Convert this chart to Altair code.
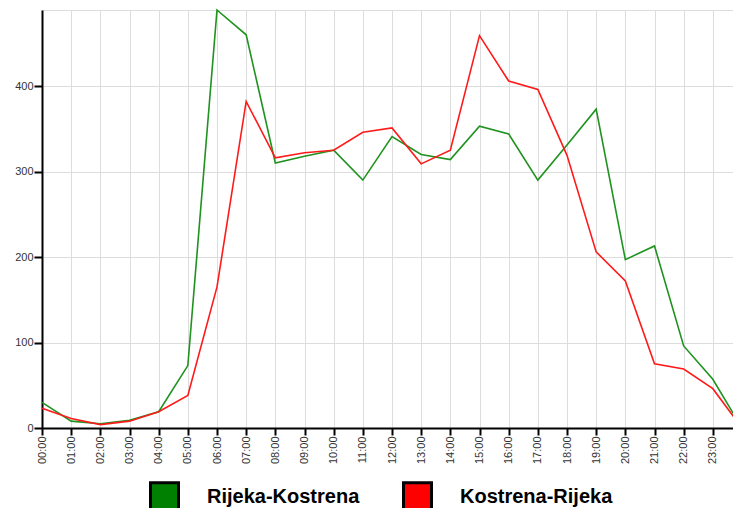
import altair as alt
import pandas as pd

hours = list(range(25))
series_names = ["Rijeka-Kostrena", "Kostrena-Rijeka"]
legend_colors = ["#008000", "#ff0000"]
line_colors = ["#1f921f", "#ff1a1a"]
rijeka_kostrena = [30, 8, 5, 9, 19, 73, 489, 460, 310, 318, 325, 290, 341, 320, 314, 353, 344, 290, 331, 373, 197, 213, 96, 57, 0]
kostrena_rijeka = [23, 11, 4, 8, 19, 38, 165, 382, 316, 322, 325, 346, 351, 309, 325, 459, 406, 396, 319, 206, 172, 75, 69, 46, 0]
y_ticks = [0, 100, 200, 300, 400]

rows = []
for name, vals in zip(series_names, [rijeka_kostrena, kostrena_rijeka]):
    for h, v in zip(hours, vals):
        rows.append({"hour": h, "value": v, "series": name})
df = pd.DataFrame(rows)

FONT = "Liberation Sans"

x_enc = alt.X(
    "hour:Q",
    scale=alt.Scale(domain=[0, 24], nice=False),
    axis=alt.Axis(
        values=hours,
        labelExpr="((datum.value % 24) < 10 ? '0' : '') + (datum.value % 24) + ':00'",
        labelAngle=270,
        labelFontSize=11,
        labelColor="#333333",
        labelFont=FONT,
        labelPadding=1,
        tickSize=7,
        tickWidth=2,
        tickColor="black",
        domainColor="black",
        domainWidth=2,
        grid=True,
        gridColor="#dddddd",
        gridWidth=1,
        title=None,
        labelOverlap=False,
    ),
)
y_enc = alt.Y(
    "value:Q",
    scale=alt.Scale(domain=[0, 489], nice=False),
    axis=alt.Axis(
        values=y_ticks,
        labelFontSize=11,
        labelColor="#333333",
        labelFont=FONT,
        labelPadding=1,
        tickSize=8,
        tickWidth=2,
        tickColor="black",
        domainColor="black",
        domainWidth=2,
        grid=True,
        gridColor="#dddddd",
        gridWidth=1,
        title=None,
    ),
)

legend_layer = alt.Chart(df).transform_filter("datum.value < 0").mark_point(
    filled=True, shape="square", stroke="black", strokeWidth=3
).encode(
    x=x_enc,
    y=y_enc,
    fill=alt.Fill(
        "series:N",
        scale=alt.Scale(domain=series_names, range=legend_colors),
        sort=series_names,
        legend=alt.Legend(
            orient="none",
            legendX=107,
            legendY=471,
            direction="horizontal",
            title=None,
            symbolType="square",
            symbolSize=784,
            symbolStrokeWidth=3,
            symbolOpacity=1,
            labelFontSize=20,
            labelFont=FONT,
            labelFontWeight="bold",
            labelColor="black",
            labelOffset=27,
            labelLimit=300,
            columnPadding=37,
        ),
    ),
)

line_layer = alt.Chart(df).mark_line(strokeWidth=1.6).encode(
    x=x_enc,
    y=y_enc,
    color=alt.Color(
        "series:N",
        scale=alt.Scale(domain=series_names, range=line_colors),
        sort=series_names,
        legend=None,
    ),
    detail="series:N",
)

chart = alt.layer(legend_layer, line_layer).resolve_scale(
    color="independent", fill="independent"
).properties(
    width=700,
    height=418,
    autosize=alt.AutoSizeParams(type="none"),
    padding={"left": 34, "top": 2, "right": -9, "bottom": 80},
).configure_view(stroke=None).configure(font=FONT)

chart.save("out.html", embed_options={"renderer": "svg", "actions": False})
